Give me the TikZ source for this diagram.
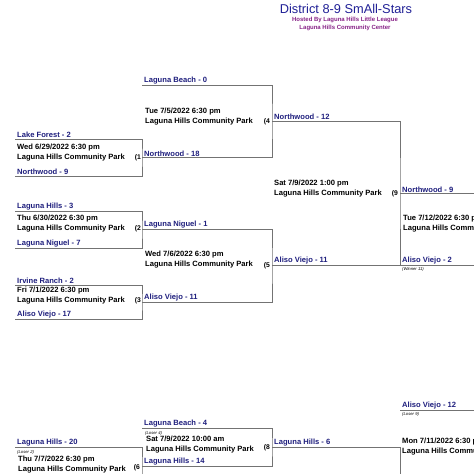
\documentclass[tikz,border=0pt]{standalone}
\usepackage{fontspec}
\setmainfont{Liberation Sans}
\usepackage{tikz}
\usetikzlibrary{positioning}
\definecolor{teamblue}{RGB}{30,30,125}
\definecolor{titleblue}{RGB}{32,32,150}
\definecolor{hostpurple}{RGB}{135,35,135}
\definecolor{bracketgrey}{RGB}{115,115,115}
\tikzset{
  bracket/.style={draw=bracketgrey,line width=0.8pt},
  team/.style={text=teamblue,font=\bfseries\fontsize{7.6}{8}\selectfont,inner sep=1pt},
  gameinfo/.style={anchor=west,align=left,inner sep=0pt,
    font=\bfseries\fontsize{7.6}{10}\selectfont},
  gameno/.style={anchor=base east,inner sep=0pt,font=\bfseries\fontsize{6.8}{8}\selectfont},
  note/.style={anchor=base west,inner sep=0pt,font=\itshape\fontsize{4.2}{5}\selectfont},
  titletext/.style={text=titleblue,inner sep=0pt,font=\fontsize{12.8}{14}\selectfont},
  hosttext/.style={text=hostpurple,inner sep=0pt,font=\bfseries\fontsize{6}{7}\selectfont}
}

\begin{document}
\begin{tikzpicture}[x=1pt,y=-1pt]
  \useasboundingbox (0,0) rectangle (474,474);
  \clip (0,0) rectangle (474,474);

  % heading
  \node[titletext] (title) at (346,9) {District 8-9 SmAll-Stars};
  \node[hosttext] (host) at (345,20) {Hosted By Laguna Hills Little League};
  \node[hosttext] (venue) at (345,28) {Laguna Hills Community Center};

  % bracket corners
  \coordinate (g1top) at (15,139);   \coordinate (g1bot) at (15,176);
  \coordinate (g1win) at (142,157.5);
  \coordinate (g2top) at (15,211);   \coordinate (g2bot) at (15,248);
  \coordinate (g2win) at (142,229.5);
  \coordinate (g3top) at (15,285);   \coordinate (g3bot) at (15,319);
  \coordinate (g3win) at (142,302);
  \coordinate (g4top) at (142,85);   \coordinate (g4win) at (272,121.25);
  \coordinate (g5win) at (272,265.75);
  \coordinate (g9win) at (400,193.5);
  \coordinate (g11bot) at (400,265.75); \coordinate (g11win) at (490,229.5);
  \coordinate (g6top) at (15,447);   \coordinate (g6bot) at (15,485);
  \coordinate (g6win) at (142,466);
  \coordinate (g8top) at (142,428);  \coordinate (g8win) at (272,447);
  \coordinate (g12win) at (400,500);
  \coordinate (g10top) at (400,410); \coordinate (g10win) at (490,452);

  \draw[bracket] (g1top) -| (g1win) |- (g1bot);
  \draw[bracket] (g2top) -| (g2win) |- (g2bot);
  \draw[bracket] (g3top) -| (g3win) |- (g3bot);
  \draw[bracket] (g4top) -| (g4win) |- (g1win);
  \draw[bracket] (g2win) -| (g5win) |- (g3win);
  \draw[bracket] (g4win) -| (g9win) |- (g5win);
  \draw[bracket] (g9win) -| (g11win) |- (g11bot);
  \draw[bracket] (g6top) -| (g6win) |- (g6bot);
  \draw[bracket] (g8top) -| (g8win) |- (g6win);
  \draw[bracket] (g8win) -| (g12win);
  \draw[bracket] (g10top) -| (g10win);

  % first round
  \node[team,above right=0pt and 1pt of g1top] (lakeforest) {Lake Forest - 2};
  \node[team,above right=0pt and 1pt of g1bot] (northwoodA) {Northwood - 9};
  \node[gameinfo] (g1info) at (17,152.4) {Wed 6/29/2022 6:30 pm\\Laguna Hills Community Park};
  \node[gameno] (g1no) at (141,159.5) {(1};

  \node[team,above right=0pt and 1pt of g2top] (lagunahillsA) {Laguna Hills - 3};
  \node[team,above right=0pt and 1pt of g2bot] (nigueA) {Laguna Niguel - 7};
  \node[gameinfo] (g2info) at (17,223.4) {Thu 6/30/2022 6:30 pm\\Laguna Hills Community Park};
  \node[gameno] (g2no) at (141,230.5) {(2};

  \node[team,above right=0pt and 1pt of g3top] (irvine) {Irvine Ranch - 2};
  \node[team,above right=0pt and 1pt of g3bot] (alisoA) {Aliso Viejo - 17};
  \node[gameinfo] (g3info) at (17,295.6) {Fri 7/1/2022 6:30 pm\\Laguna Hills Community Park};
  \node[gameno] (g3no) at (141,302.5) {(3};

  % second round
  \node[team,above right=0pt and 1pt of g4top] (lagunabeachA) {Laguna Beach - 0};
  \node[team,above right=0pt and 1pt of g1win] (northwoodB) {Northwood - 18};
  \node[gameinfo] (g4info) at (145,116.4) {Tue 7/5/2022 6:30 pm\\Laguna Hills Community Park};
  \node[gameno] (g4no) at (270,123.5) {(4};

  \node[team,above right=0pt and 1pt of g2win] (niguelB) {Laguna Niguel - 1};
  \node[team,above right=0pt and 1pt of g3win] (alisoB) {Aliso Viejo - 11};
  \node[gameinfo] (g5info) at (145,259.4) {Wed 7/6/2022 6:30 pm\\Laguna Hills Community Park};
  \node[gameno] (g5no) at (270,267.5) {(5};

  % third round
  \node[team,above right=0pt and 1pt of g4win] (northwoodC) {Northwood - 12};
  \node[team,above right=0pt and 1pt of g5win] (alisoC) {Aliso Viejo - 11};
  \node[gameinfo] (g9info) at (274,188.4) {Sat 7/9/2022 1:00 pm\\Laguna Hills Community Park};
  \node[gameno] (g9no) at (398,195.5) {(9};

  % final
  \node[team,above right=0pt and 1pt of g9win] (northwoodD) {Northwood - 9};
  \node[team,above right=0pt and 1pt of g11bot] (alisoD) {Aliso Viejo - 2};
  \node[note] (winner11) at (402,270) {(Winner 11)};
  \node[gameinfo] (g11info) at (403,223.4) {Tue 7/12/2022 6:30 pm\\Laguna Hills Community Park};

  % losers side
  \node[team,above right=0pt and 1pt of g6top] (lagunahillsB) {Laguna Hills - 20};
  \node[note] (loser2) at (17,453) {(Loser 2)};
  \node[gameinfo] (g6info) at (18,464.4) {Thu 7/7/2022 6:30 pm\\Laguna Hills Community Park};
  \node[gameno] (g6no) at (140,469.5) {(6};

  \node[team,above right=0pt and 1pt of g8top] (lagunabeachB) {Laguna Beach - 4};
  \node[note] (loser4) at (145,434) {(Loser 4)};
  \node[gameinfo] (g8info) at (146,444.4) {Sat 7/9/2022 10:00 am\\Laguna Hills Community Park};
  \node[gameno] (g8no) at (270,449) {(8};
  \node[team,above right=0pt and 1pt of g6win] (lagunahillsC) {Laguna Hills - 14};
  \node[team,above right=0pt and 1pt of g8win] (lagunahillsD) {Laguna Hills - 6};

  \node[team,above right=0pt and 1pt of g10top] (alisoE) {Aliso Viejo - 12};
  \node[note] (loser9) at (402,415) {(Loser 9)};
  \node[gameinfo] (g10info) at (402,446.4) {Mon 7/11/2022 6:30 pm\\Laguna Hills Community Park};
\end{tikzpicture}
\end{document}
